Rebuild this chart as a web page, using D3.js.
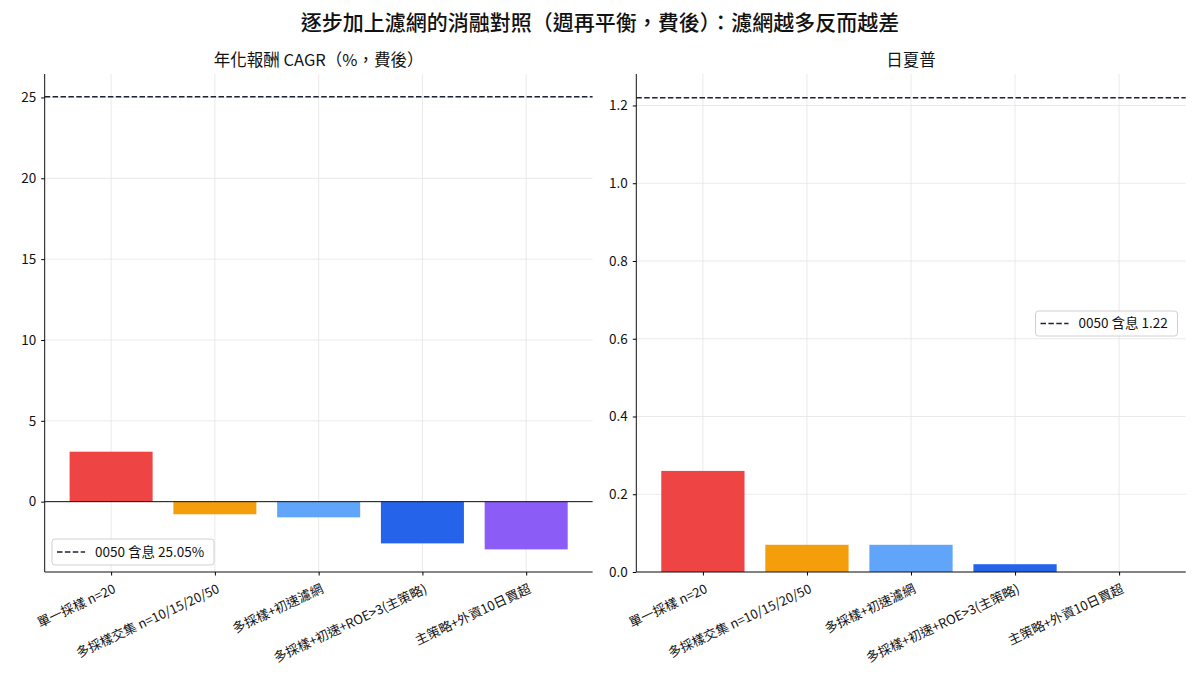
<!DOCTYPE html>
<html><head><meta charset="utf-8">
<script src="https://cdn.jsdelivr.net/npm/d3@7"></script>
<style>
body{margin:0;background:#fff;}
text{font-family:"Noto Sans CJK TC","Noto Sans",sans-serif;fill:#111;}
</style></head>
<body><svg id="c" width="1200" height="675"></svg>
<script>
const categories = ["單一採樣 n=20","多採樣交集 n=10/15/20/50","多採樣+初速濾網","多採樣+初速+ROE>3(主策略)","主策略+外資10日買超"];
const colors = ["#ef4444","#f59e0b","#60a5fa","#2563eb","#8b5cf6"];
const cagrValues = [3.09, -0.78, -0.97, -2.58, -2.95];
const sharpeValues = [0.26, 0.07, 0.07, 0.02, 0.0];
const cagrBench = 25.05;
const sharpeBench = 1.22;
const cagrTicks = [0,5,10,15,20,25];
const sharpeTicks = [0,0.2,0.4,0.6,0.8,1.0,1.2];
const titleText = "逐步加上濾網的消融對照（週再平衡，費後）：濾網越多反而越差";

const svg = d3.select("#c");
svg.append("text").attr("x",600).attr("y",30).attr("text-anchor","middle")
  .style("font-size","21px").style("font-weight","500").text(titleText);

function panel(opt){
  const {x0,x1,y0,y1,values,bench,ticks,fmt,sub,legendText,legendPos,zeroLine} = opt;
  const g = svg.append("g");
  const dmin = Math.min(d3.min(values), bench, 0), dmax = Math.max(d3.max(values), bench);
  const span = dmax - dmin;
  const lo = d3.min(values) < 0 ? dmin - span*0.05 : 0;
  const hi = dmax + span*0.05;
  const x = d3.scaleLinear().domain([-0.64, 4.64]).range([x0,x1]);
  const y = d3.scaleLinear().domain([lo,hi]).range([y1,y0]);
  // grid
  g.selectAll(".gy").data(ticks).join("line").attr("x1",x0).attr("x2",x1)
    .attr("y1",d=>y(d)).attr("y2",d=>y(d)).attr("stroke","#e5e5e5").attr("stroke-width",0.8);
  g.selectAll(".gx").data(categories).join("line").attr("x1",(d,i)=>x(i)).attr("x2",(d,i)=>x(i))
    .attr("y1",y0).attr("y2",y1).attr("stroke","#e5e5e5").attr("stroke-width",0.8);
  // bars
  g.selectAll(".bar").data(values).join("rect")
    .attr("x",(d,i)=>x(i-0.4)).attr("width",x(0.4)-x(-0.4))
    .attr("y",d=>y(Math.max(d,0))).attr("height",d=>Math.abs(y(d)-y(0)))
    .attr("fill",(d,i)=>colors[i]);
  if(zeroLine){
    g.append("line").attr("x1",x0).attr("x2",x1).attr("y1",y(0)).attr("y2",y(0))
      .attr("stroke","#111").attr("stroke-width",1);
  }
  // bench
  g.append("line").attr("x1",x0).attr("x2",x1).attr("y1",y(bench)).attr("y2",y(bench))
    .attr("stroke","#1e2235").attr("stroke-width",1.5).attr("stroke-dasharray","5.5,2.4");
  // axes
  const ya = g.append("g").attr("transform",`translate(${x0},0)`)
    .call(d3.axisLeft(y).tickValues(ticks).tickFormat(fmt).tickSize(3.5).tickPadding(5));
  ya.select(".domain").attr("d",`M0,${y0}V${y1}`).attr("stroke","#111");
  ya.selectAll("text").style("font-size","13.5px");
  const xa = g.append("g").attr("transform",`translate(0,${y1})`)
    .call(d3.axisBottom(x).tickValues(d3.range(categories.length)).tickFormat(i=>categories[i]).tickSize(3.5).tickPadding(4));
  xa.select(".domain").attr("d",`M${x0},0H${x1}`).attr("stroke","#111");
  xa.selectAll("text").style("font-size","13px").attr("text-anchor","end")
    .attr("dy","0.7em").attr("transform","translate(-2,5) rotate(-25)");
  // subtitle
  g.append("text").attr("x",(x0+x1)/2).attr("y",y0-8).attr("text-anchor","middle")
    .style("font-size","16.5px").text(sub);
  // legend
  const [lx,ly,lw,lh] = legendPos;
  const lg = g.append("g").attr("transform",`translate(${lx},${ly})`);
  lg.append("rect").attr("width",lw).attr("height",lh).attr("rx",3)
    .attr("fill","#fff").attr("fill-opacity",0.85).attr("stroke","#d0d0d0");
  lg.append("line").attr("x1",5).attr("x2",33).attr("y1",lh/2).attr("y2",lh/2)
    .attr("stroke","#1e2235").attr("stroke-width",1.5).attr("stroke-dasharray","5.5,2.4");
  lg.append("text").attr("x",43).attr("y",lh/2).attr("dy","0.36em").style("font-size","13.5px").text(legendText);
}

panel({x0:44.7,x1:592.6,y0:74,y1:572,values:cagrValues,bench:cagrBench,ticks:cagrTicks,
  fmt:d3.format("d"),sub:"年化報酬 CAGR（%，費後）",legendText:"0050 含息 25.05%",
  legendPos:[52,539,162,26],zeroLine:true});
panel({x0:636.3,x1:1185.7,y0:74,y1:572,values:sharpeValues,bench:sharpeBench,ticks:sharpeTicks,
  fmt:d3.format(".1f"),sub:"日夏普",legendText:"0050 含息 1.22",
  legendPos:[1035.5,311,142,25],zeroLine:false});
</script></body></html>
